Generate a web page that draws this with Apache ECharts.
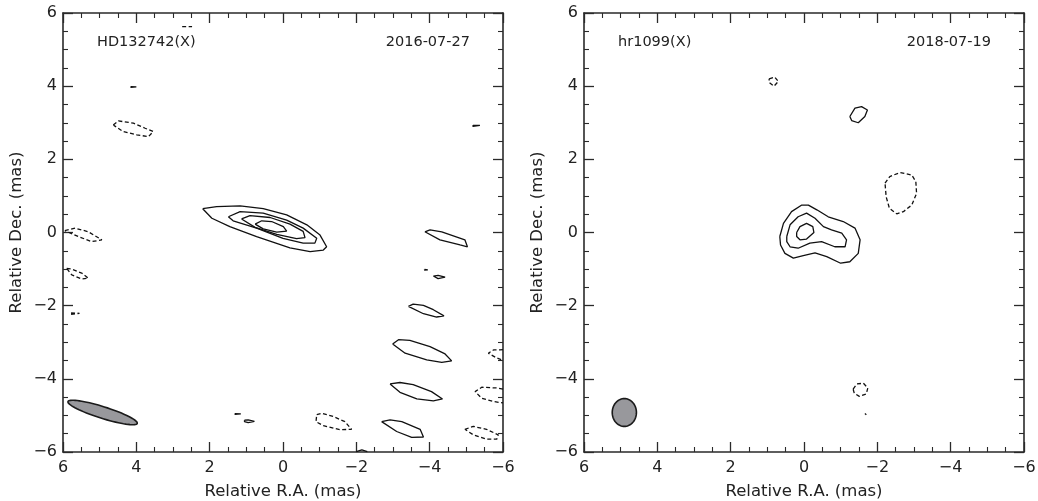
<!DOCTYPE html>
<html>
<head>
<meta charset="utf-8">
<script src="https://cdn.jsdelivr.net/npm/echarts@6/dist/echarts.min.js"></script>
<style>
  html, body { margin: 0; padding: 0; background: #fff; }
  #chart { width: 1038px; height: 501px; }
</style>
</head>
<body>
<div id="chart"></div>
<script>
// Contour maps, in mas (R.A., Dec.)
const axisTicks = [-6, -4, -2, 0, 2, 4, 6];

const panelNames = ['HD132742(X)', 'hr1099(X)'];
const panelDates = ['2016-07-27', '2018-07-19'];

// --- HD132742 (left panel) ---
const hdCore1 = [[2.19,0.65],[1.81,0.71],[1.17,0.73],[0.54,0.65],[-0.1,0.48],[-0.65,0.21],[-1.01,-0.07],[-1.19,-0.39],[-1.1,-0.48],[-0.74,-0.52],[-0.19,-0.42],[0.72,-0.11],[1.45,0.16],[1.94,0.39],[2.19,0.65]];
const hdCore2 = [[1.49,0.43],[1.17,0.57],[0.54,0.53],[-0.1,0.34],[-0.55,0.12],[-0.92,-0.16],[-0.87,-0.29],[-0.55,-0.29],[0.0,-0.16],[0.72,0.12],[1.36,0.32],[1.49,0.43]];
const hdCore3 = [[1.13,0.37],[0.9,0.46],[0.35,0.41],[-0.19,0.23],[-0.55,0.03],[-0.6,-0.14],[-0.37,-0.17],[0.17,-0.05],[0.76,0.14],[1.13,0.37]];
const hdCore4 = [[0.76,0.23],[0.58,0.32],[0.31,0.3],[-0.01,0.16],[-0.1,0.04],[0.17,0.01],[0.54,0.1],[0.76,0.23]];
const hdE1 = [[-3.87,0.02],[-4.01,0.07],[-4.33,0.02],[-4.96,-0.2],[-5.03,-0.39],[-4.83,-0.34],[-4.28,-0.2],[-3.87,0.02]];
const hdE2 = [[-3.86,-1.01],[-3.95,-1.02],[-3.95,-1.04],[-3.86,-1.03],[-3.86,-1.01]];
const hdE3 = [[-4.1,-1.19],[-4.23,-1.17],[-4.42,-1.22],[-4.23,-1.26],[-4.1,-1.19]];
const hdE4 = [[-3.42,-2.02],[-3.55,-1.96],[-3.83,-1.99],[-4.1,-2.11],[-4.39,-2.28],[-4.19,-2.31],[-3.83,-2.22],[-3.42,-2.02]];
const hdE5 = [[-2.99,-3.05],[-3.15,-2.93],[-3.46,-2.95],[-4.01,-3.12],[-4.42,-3.32],[-4.6,-3.51],[-4.33,-3.55],[-3.92,-3.48],[-3.33,-3.3],[-2.99,-3.05]];
const hdE6 = [[-2.92,-4.14],[-3.19,-4.1],[-3.55,-4.16],[-4.05,-4.35],[-4.35,-4.55],[-4.1,-4.6],[-3.65,-4.55],[-3.19,-4.37],[-2.92,-4.14]];
const hdE7 = [[-2.69,-5.17],[-2.92,-5.12],[-3.24,-5.17],[-3.74,-5.38],[-3.83,-5.59],[-3.51,-5.6],[-3.1,-5.44],[-2.69,-5.17]];
const hdE8 = [[-5.18,2.93],[-5.37,2.93],[-5.37,2.9],[-5.18,2.9],[-5.18,2.93]];
const hdTop1 = [[4.15,3.99],[4.0,3.98],[4.0,3.96],[4.15,3.97],[4.15,3.99]];
const hdBot1 = [[1.31,-4.95],[1.15,-4.96],[1.15,-4.98],[1.31,-4.97],[1.31,-4.95]];
const hdBot2 = [[1.05,-5.13],[0.95,-5.12],[0.78,-5.16],[0.95,-5.2],[1.05,-5.17],[1.05,-5.13]];
const hdBot3 = [[-2.0,-5.99],[-2.15,-5.94],[-2.3,-5.99]];
const hdNeg1 = [[4.63,2.94],[4.49,3.05],[4.08,2.99],[3.76,2.85],[3.54,2.76],[3.67,2.62],[3.99,2.67],[4.36,2.76],[4.63,2.94]];
const hdNeg2 = [[5.95,0.05],[5.67,0.12],[5.31,0.02],[4.94,-0.2],[5.22,-0.25],[5.58,-0.11],[5.95,0.05]];
const hdNeg3 = [[5.9,-0.98],[5.76,-1.0],[5.49,-1.11],[5.31,-1.25],[5.49,-1.27],[5.76,-1.16],[5.9,-0.98]];
const hdNeg4 = [[5.78,-2.2],[5.55,-2.21],[5.55,-2.25],[5.78,-2.24]];
const hdNeg5 = [[2.75,5.63],[2.48,5.63]];
const hdNeg6 = [[-0.92,-4.98],[-1.05,-4.94],[-1.37,-5.03],[-1.69,-5.17],[-1.87,-5.38],[-1.55,-5.39],[-1.1,-5.28],[-0.9,-5.17],[-0.92,-4.98]];
const hdNeg7 = [[-6.0,-3.2],[-5.92,-3.21],[-5.74,-3.21],[-5.6,-3.3],[-5.83,-3.43],[-5.96,-3.48],[-6.0,-3.5]];
const hdNeg8 = [[-6.0,-4.28],[-5.83,-4.25],[-5.42,-4.23],[-5.24,-4.35],[-5.42,-4.53],[-5.74,-4.62],[-6.0,-4.66]];
const hdNeg9 = [[-4.96,-5.38],[-5.19,-5.3],[-5.55,-5.38],[-5.87,-5.53],[-5.83,-5.65],[-5.55,-5.65],[-5.19,-5.53],[-4.96,-5.38]];

// --- hr1099 (right panel) ---
const hrCore1 = [[0.66,-0.11],[0.56,0.25],[0.34,0.57],[0.06,0.75],[-0.12,0.75],[-0.35,0.62],[-0.66,0.43],[-1.07,0.3],[-1.39,0.12],[-1.53,-0.2],[-1.48,-0.57],[-1.25,-0.8],[-1.0,-0.84],[-0.62,-0.66],[-0.3,-0.56],[0.02,-0.63],[0.29,-0.7],[0.52,-0.57],[0.64,-0.34],[0.66,-0.11]];
const hrCore2 = [[0.47,-0.11],[0.38,0.21],[0.16,0.43],[-0.07,0.53],[-0.3,0.39],[-0.53,0.16],[-0.75,0.07],[-1.03,-0.02],[-1.16,-0.2],[-1.12,-0.39],[-0.84,-0.39],[-0.48,-0.25],[-0.16,-0.29],[0.16,-0.43],[0.38,-0.39],[0.47,-0.25],[0.47,-0.11]];
const hrCore3 = [[0.2,0.0],[0.11,0.16],[-0.07,0.25],[-0.24,0.16],[-0.27,0.0],[-0.07,-0.18],[0.11,-0.2],[0.2,-0.11],[0.2,0.0]];
const hrPos1 = [[-1.25,3.17],[-1.39,3.4],[-1.57,3.44],[-1.73,3.35],[-1.66,3.17],[-1.48,3.0],[-1.3,3.06],[-1.25,3.17]];
const hrPos2 = [[-1.66,-4.95],[-1.7,-4.95],[-1.7,-4.98],[-1.66,-4.98],[-1.66,-4.95]];
const hrNeg1 = [[0.95,4.2],[0.8,4.25],[0.7,4.13],[0.82,4.0],[0.95,4.1],[0.95,4.2]];
const hrNeg2 = [[-2.21,1.35],[-2.34,1.53],[-2.62,1.64],[-2.94,1.57],[-3.05,1.39],[-3.07,1.07],[-2.94,0.75],[-2.71,0.57],[-2.53,0.51],[-2.33,0.66],[-2.24,0.98],[-2.21,1.35]];
const hrNeg3 = [[-1.34,-4.28],[-1.44,-4.14],[-1.62,-4.12],[-1.74,-4.25],[-1.7,-4.41],[-1.51,-4.48],[-1.37,-4.39],[-1.34,-4.28]];

const hdSolid = [hdCore1, hdCore2, hdCore3, hdCore4, hdE1, hdE2, hdE3, hdE4, hdE5, hdE6, hdE7, hdE8, hdTop1, hdBot1, hdBot2, hdBot3];
const hdDashed = [hdNeg1, hdNeg2, hdNeg3, hdNeg4, hdNeg5, hdNeg6, hdNeg7, hdNeg8, hdNeg9];
const hrSolid = [hrCore1, hrCore2, hrCore3, hrPos1, hrPos2];
const hrDashed = [hrNeg1, hrNeg2, hrNeg3];

// Restoring beams: [centerRA, centerDec, semiMajor, semiMinor, angleDeg]
const hdBeam = [4.92, -4.92, 0.99, 0.16, 17.5];
const hrBeam = [4.9, -4.92, 0.38, 0.33, 90];

const textColor = '#222';
const lineColor = '#2a2a2a';
const fontFamily = 'DejaVu Sans';

function fmt(v) {
    return v < 0 ? '\u2212' + Math.abs(v) : String(v);
}

function makeAxis(kind, idx, position, showLabel, name) {
    const isX = kind === 'x';
    return {
        type: 'value',
        gridIndex: idx,
        position: position,
        min: -6, max: 6, interval: 2,
        inverse: isX,
        name: name || '',
        nameLocation: 'middle',
        nameGap: isX ? 31 : 38,
        nameTextStyle: { fontFamily: fontFamily, fontSize: 16.5, color: textColor },
        axisLine: { show: true, onZero: false, lineStyle: { color: lineColor, width: 1.6 } },
        axisTick: { show: true, inside: true, length: 10, lineStyle: { color: lineColor, width: 1.3 } },
        minorTick: { show: true, splitNumber: 4, length: 5, lineStyle: { color: lineColor, width: 1.1 } },
        splitLine: { show: false },
        axisLabel: {
            show: showLabel,
            formatter: fmt,
            fontFamily: fontFamily,
            fontSize: 16,
            color: textColor,
            margin: isX ? 8 : 6
        }
    };
}

const xAxes = [], yAxes = [];
[0, 1].forEach(function (g) {
    xAxes.push(makeAxis('x', g, 'bottom', true, 'Relative R.A. (mas)'));
    xAxes.push(makeAxis('x', g, 'top', false));
    yAxes.push(makeAxis('y', g, 'left', true, 'Relative Dec. (mas)'));
    yAxes.push(makeAxis('y', g, 'right', false));
});

const series = [];
function addContours(list, g, dashed) {
    list.forEach(function (pts) {
        series.push({
            type: 'line',
            xAxisIndex: g * 2,
            yAxisIndex: g * 2,
            data: pts,
            showSymbol: false,
            symbol: 'none',
            smooth: false,
            silent: true,
            clip: true,
            lineStyle: { color: '#111', width: 1.3, type: dashed ? [4, 2.5] : 'solid' },
            z: 3
        });
    });
}
addContours(hdSolid, 0, false);
addContours(hdDashed, 0, true);
addContours(hrSolid, 1, false);
addContours(hrDashed, 1, true);

function addBeam(beam, g) {
    series.push({
        type: 'custom',
        xAxisIndex: g * 2,
        yAxisIndex: g * 2,
        data: [beam],
        silent: true,
        z: 4,
        renderItem: function (params, api) {
            const cx = api.value(0), cy = api.value(1);
            const a = api.value(2), b = api.value(3);
            const ang = api.value(4) * Math.PI / 180;
            const pts = [];
            for (let i = 0; i < 72; i++) {
                const t = i / 72 * Math.PI * 2;
                const u = a * Math.cos(t), w = b * Math.sin(t);
                pts.push(api.coord([cx + u * Math.cos(ang) - w * Math.sin(ang),
                                    cy + u * Math.sin(ang) + w * Math.cos(ang)]));
            }
            return {
                type: 'polygon',
                shape: { points: pts },
                style: { fill: '#98989c', stroke: '#1a1a1a', lineWidth: 1.6 }
            };
        }
    });
}
addBeam(hdBeam, 0);
addBeam(hrBeam, 1);

const grids = [
    { left: 63, top: 13, width: 440, height: 439, containLabel: false, outerBoundsMode: 'none' },
    { left: 584, top: 13, width: 440, height: 439, containLabel: false, outerBoundsMode: 'none' }
];

const labelStyle = { fontFamily: fontFamily, fontSize: 14.5, fill: textColor };
const graphic = [];
grids.forEach(function (gr, i) {
    graphic.push({ type: 'text', left: gr.left + 34, top: 35, style: Object.assign({ text: panelNames[i] }, labelStyle) });
    graphic.push({ type: 'text', right: 1038 - (gr.left + gr.width) + 33, top: 35, style: Object.assign({ text: panelDates[i] }, labelStyle) });
});

const chart = echarts.init(document.getElementById('chart'), null, { renderer: 'canvas' });
chart.setOption({
    animation: false,
    backgroundColor: '#fff',
    grid: grids,
    xAxis: xAxes,
    yAxis: yAxes,
    series: series,
    graphic: graphic
});
</script>
</body>
</html>
